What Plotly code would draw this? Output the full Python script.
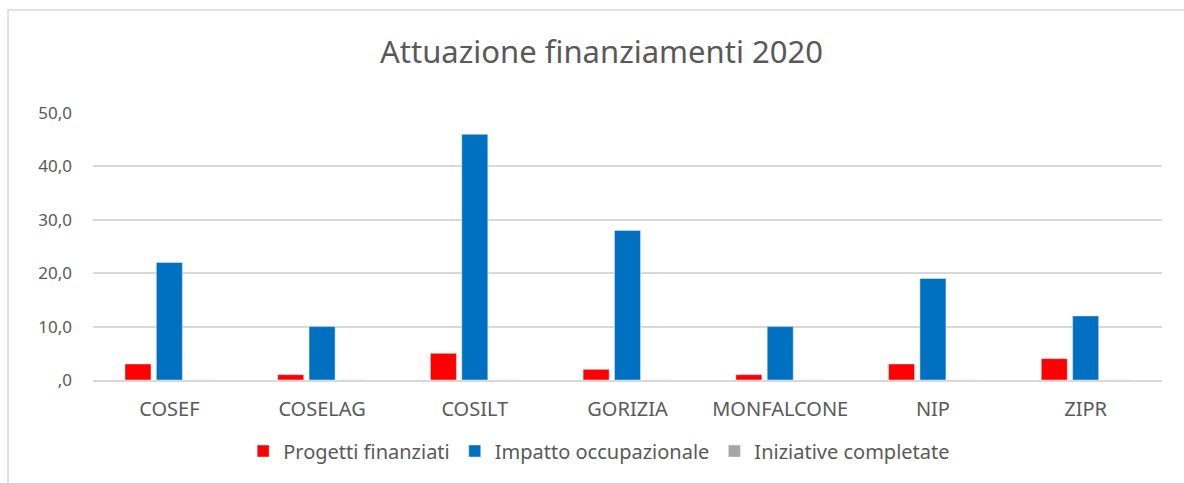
import plotly.graph_objects as go

categories = ["COSEF", "COSELAG", "COSILT", "GORIZIA", "MONFALCONE", "NIP", "ZIPR"]
progetti = [3, 1, 5, 2, 1, 3, 4]
impatto = [22, 10, 46, 28, 10, 19, 12]
iniziative = [0, 0, 0, 0, 0, 0, 0]
tick_vals = [0, 10, 20, 30, 40, 50]
tick_text = [",0", "10,0", "20,0", "30,0", "40,0", "50,0"]

FONT = "Noto Sans"
GREY = "#595959"

fig = go.Figure()
fig.add_bar(x=categories, y=progetti, name="Progetti finanziati", marker_color="#ff0000")
fig.add_bar(x=categories, y=impatto, name="Impatto occupazionale", marker_color="#0070c0")
fig.add_bar(x=categories, y=iniziative, name="Iniziative completate", marker_color="#a5a5a5")

fig.update_layout(
    width=1184, height=483,
    margin=dict(l=93, r=22, t=113, b=103),
    paper_bgcolor="white", plot_bgcolor="white",
    barmode="group", bargap=0.384, bargroupgap=0.17,
    font=dict(family=FONT, color=GREY, size=16),
    title=dict(text="Attuazione finanziamenti 2020", x=0.508, xanchor="center",
               y=0.892, yanchor="middle", font=dict(size=31, color=GREY, family=FONT)),
    legend=dict(orientation="h", x=0.4735, xanchor="center", y=-0.266, yanchor="middle",
                font=dict(size=20, color=GREY), itemwidth=30, traceorder="normal"),
    showlegend=True,
)
fig.update_xaxes(showgrid=False, showline=True, linecolor="#d9d9d9", linewidth=2,
                 ticks="", ticklabelstandoff=10, tickfont=dict(size=20, color=GREY))
fig.update_yaxes(range=[0, 50], tickvals=tick_vals, ticktext=tick_text, showgrid=True,
                 gridcolor="#d9d9d9", gridwidth=1.5, zeroline=False, ticks="",
                 ticklabelstandoff=20, tickfont=dict(size=17, color=GREY))
fig.add_shape(type="rect", xref="paper", yref="paper", x0=-0.0795, x1=1.1, y0=-0.5, y1=1.386,
              line=dict(color="#d9d9d9", width=1.5), fillcolor="rgba(0,0,0,0)", layer="below")

fig.write_html("out.html", config={"displayModeBar": False},
               post_script="document.body.style.margin='0px';")
